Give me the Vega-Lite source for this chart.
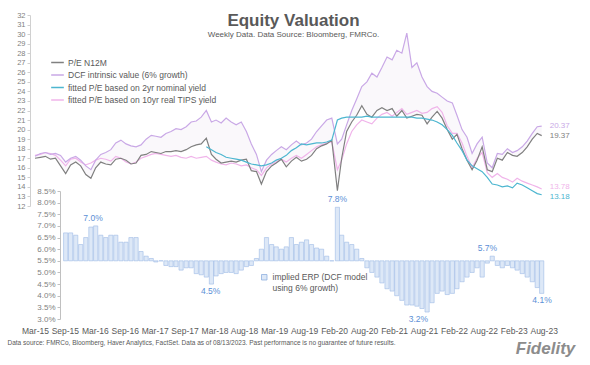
{
  "$schema": "https://vega.github.io/schema/vega-lite/v6.json",
  "width": 519,
  "height": 304,
  "autosize": {"type": "none"},
  "padding": {"left": 30, "top": 15, "right": 41, "bottom": 46},
  "background": "white",
  "config": {
    "view": {"stroke": null},
    "font": "Liberation Sans",
    "axis": {"grid": false, "labelOverlap": false, "labelSeparation": 0}
  },
  "title": {
    "text": "Equity Valuation",
    "subtitle": "Weekly Data. Data Source: Bloomberg, FMRCo.",
    "anchor": "middle", "frame": "group", "offset": -29, "dx": 4,
    "fontSize": 17, "fontWeight": "bold", "color": "#595959",
    "subtitleFontSize": 8, "subtitleColor": "#595959", "subtitlePadding": 1
  },
  "datasets": {
    "main": [
      {"date": "2015-03-13", "pe": 17.0, "dcf": 17.2, "tips": 17.3},
      {"date": "2015-04-15", "pe": 17.1, "dcf": 17.5, "tips": 17.4},
      {"date": "2015-05-15", "pe": 17.2, "dcf": 17.6, "tips": 17.6},
      {"date": "2015-06-15", "pe": 16.9, "dcf": 17.4, "tips": 17.5},
      {"date": "2015-07-15", "pe": 17.0, "dcf": 17.5, "tips": 17.3},
      {"date": "2015-08-15", "pe": 16.2, "dcf": 17.3, "tips": 16.8},
      {"date": "2015-09-15", "pe": 15.4, "dcf": 16.6, "tips": 16.2, "erp": 6.7},
      {"date": "2015-10-15", "pe": 16.3, "dcf": 17.0, "tips": 16.9, "erp": 6.7},
      {"date": "2015-11-15", "pe": 16.6, "dcf": 17.2, "tips": 17.0, "erp": 6.6},
      {"date": "2015-12-15", "pe": 16.2, "dcf": 16.8, "tips": 16.6, "erp": 6.2},
      {"date": "2016-01-15", "pe": 15.3, "dcf": 16.2, "tips": 16.3, "erp": 6.5},
      {"date": "2016-02-15", "pe": 14.9, "dcf": 15.8, "tips": 16.5, "erp": 6.95},
      {"date": "2016-03-15", "pe": 16.0, "dcf": 16.8, "tips": 16.8, "erp": 7.0},
      {"date": "2016-04-15", "pe": 16.6, "dcf": 17.4, "tips": 17.0, "erp": 6.6},
      {"date": "2016-05-15", "pe": 16.4, "dcf": 17.6, "tips": 16.9, "erp": 6.5},
      {"date": "2016-06-15", "pe": 16.3, "dcf": 17.9, "tips": 16.7, "erp": 6.6},
      {"date": "2016-07-15", "pe": 16.9, "dcf": 18.6, "tips": 17.2, "erp": 6.6},
      {"date": "2016-08-15", "pe": 17.0, "dcf": 18.9, "tips": 17.0, "erp": 6.3},
      {"date": "2016-09-15", "pe": 16.8, "dcf": 18.5, "tips": 16.6, "erp": 6.3},
      {"date": "2016-10-15", "pe": 16.4, "dcf": 18.3, "tips": 16.4, "erp": 6.5},
      {"date": "2016-11-15", "pe": 16.5, "dcf": 18.2, "tips": 16.6, "erp": 6.5},
      {"date": "2016-12-15", "pe": 17.3, "dcf": 18.4, "tips": 17.0, "erp": 5.9},
      {"date": "2017-01-15", "pe": 17.4, "dcf": 19.0, "tips": 17.2, "erp": 5.7},
      {"date": "2017-02-15", "pe": 17.7, "dcf": 19.4, "tips": 17.4, "erp": 5.6},
      {"date": "2017-03-15", "pe": 17.6, "dcf": 19.3, "tips": 17.5, "erp": 5.45},
      {"date": "2017-04-15", "pe": 17.5, "dcf": 19.2, "tips": 17.4, "erp": 5.5},
      {"date": "2017-05-15", "pe": 17.7, "dcf": 19.6, "tips": 17.3, "erp": 5.3},
      {"date": "2017-06-15", "pe": 17.7, "dcf": 19.8, "tips": 17.2, "erp": 5.25},
      {"date": "2017-07-15", "pe": 17.8, "dcf": 20.1, "tips": 17.3, "erp": 5.25},
      {"date": "2017-08-15", "pe": 17.7, "dcf": 20.0, "tips": 17.1, "erp": 5.1},
      {"date": "2017-09-15", "pe": 17.9, "dcf": 20.3, "tips": 17.0, "erp": 5.2},
      {"date": "2017-10-15", "pe": 18.2, "dcf": 20.8, "tips": 17.2, "erp": 5.2},
      {"date": "2017-11-15", "pe": 18.4, "dcf": 20.9, "tips": 17.0, "erp": 4.95},
      {"date": "2017-12-15", "pe": 18.5, "dcf": 21.3, "tips": 17.1, "erp": 4.9},
      {"date": "2018-01-15", "pe": 19.1, "dcf": 22.0, "tips": 17.2, "nom": 18.2, "erp": 4.8},
      {"date": "2018-02-15", "pe": 17.4, "dcf": 20.8, "tips": 16.8, "nom": 17.9, "erp": 4.5},
      {"date": "2018-03-15", "pe": 16.9, "dcf": 21.0, "tips": 16.6, "nom": 17.6, "erp": 4.85},
      {"date": "2018-04-15", "pe": 16.5, "dcf": 20.7, "tips": 16.4, "nom": 17.4, "erp": 4.95},
      {"date": "2018-05-15", "pe": 16.6, "dcf": 21.2, "tips": 16.3, "nom": 17.1, "erp": 5.0},
      {"date": "2018-06-15", "pe": 16.7, "dcf": 20.8, "tips": 16.5, "nom": 17.0, "erp": 5.0},
      {"date": "2018-07-15", "pe": 16.6, "dcf": 20.5, "tips": 16.4, "nom": 16.9, "erp": 4.95},
      {"date": "2018-08-15", "pe": 16.8, "dcf": 20.8, "tips": 16.2, "nom": 16.8, "erp": 5.1},
      {"date": "2018-09-15", "pe": 16.9, "dcf": 19.8, "tips": 16.3, "nom": 16.6, "erp": 5.25},
      {"date": "2018-10-15", "pe": 15.7, "dcf": 18.5, "tips": 16.0, "nom": 16.4, "erp": 5.3},
      {"date": "2018-11-15", "pe": 15.6, "dcf": 17.4, "tips": 15.8, "nom": 16.3, "erp": 5.6},
      {"date": "2018-12-15", "pe": 14.3, "dcf": 15.6, "tips": 15.2, "nom": 16.2, "erp": 6.0},
      {"date": "2019-01-15", "pe": 15.6, "dcf": 16.8, "tips": 16.0, "nom": 16.3, "erp": 6.5},
      {"date": "2019-02-15", "pe": 16.2, "dcf": 17.4, "tips": 16.4, "nom": 16.5, "erp": 6.2},
      {"date": "2019-03-15", "pe": 16.5, "dcf": 17.8, "tips": 16.6, "nom": 16.8, "erp": 6.1},
      {"date": "2019-04-15", "pe": 16.9, "dcf": 18.2, "tips": 16.9, "nom": 17.0, "erp": 6.0},
      {"date": "2019-05-15", "pe": 16.1, "dcf": 17.9, "tips": 16.6, "nom": 17.3, "erp": 6.1},
      {"date": "2019-06-15", "pe": 16.7, "dcf": 18.4, "tips": 17.0, "nom": 17.8, "erp": 6.5},
      {"date": "2019-07-15", "pe": 17.1, "dcf": 18.8, "tips": 17.3, "nom": 18.1, "erp": 6.2},
      {"date": "2019-08-15", "pe": 16.7, "dcf": 18.4, "tips": 17.0, "nom": 18.5, "erp": 6.3},
      {"date": "2019-09-15", "pe": 16.9, "dcf": 18.6, "tips": 17.4, "nom": 18.4, "erp": 6.4},
      {"date": "2019-10-15", "pe": 17.3, "dcf": 19.0, "tips": 17.8, "nom": 18.5, "erp": 6.2},
      {"date": "2019-11-15", "pe": 18.0, "dcf": 19.8, "tips": 18.2, "nom": 18.6, "erp": 6.05},
      {"date": "2019-12-15", "pe": 18.3, "dcf": 20.4, "tips": 18.4, "nom": 18.6, "erp": 6.0},
      {"date": "2020-01-15", "pe": 18.5, "dcf": 21.0, "tips": 18.6, "nom": 18.7, "erp": 5.7},
      {"date": "2020-02-15", "pe": 18.9, "dcf": 21.2, "tips": 18.7, "nom": 18.9, "erp": 5.5},
      {"date": "2020-03-20", "pe": 13.6, "dcf": 18.5, "tips": 15.8, "nom": 21.0, "erp": 7.8},
      {"date": "2020-04-15", "pe": 17.0, "dcf": 19.0, "tips": 16.8, "nom": 21.2, "erp": 6.6},
      {"date": "2020-05-15", "pe": 19.8, "dcf": 20.5, "tips": 18.5, "nom": 21.3, "erp": 6.3},
      {"date": "2020-06-15", "pe": 20.8, "dcf": 22.0, "tips": 19.8, "nom": 21.3, "erp": 6.2},
      {"date": "2020-07-15", "pe": 21.5, "dcf": 23.2, "tips": 20.5, "nom": 21.3, "erp": 6.0},
      {"date": "2020-08-15", "pe": 22.5, "dcf": 24.5, "tips": 21.0, "nom": 21.3, "erp": 5.6},
      {"date": "2020-09-15", "pe": 21.6, "dcf": 25.0, "tips": 20.8, "nom": 21.4, "erp": 5.2},
      {"date": "2020-10-15", "pe": 21.3, "dcf": 25.9, "tips": 20.6, "nom": 21.3, "erp": 5.0},
      {"date": "2020-11-15", "pe": 22.0, "dcf": 25.5, "tips": 21.2, "nom": 21.3, "erp": 4.8},
      {"date": "2020-12-15", "pe": 22.3, "dcf": 26.5, "tips": 21.6, "nom": 21.3, "erp": 4.55},
      {"date": "2021-01-15", "pe": 22.0, "dcf": 27.6, "tips": 21.8, "nom": 21.3, "erp": 4.3},
      {"date": "2021-02-15", "pe": 22.2, "dcf": 27.3, "tips": 21.4, "nom": 21.3, "erp": 4.2},
      {"date": "2021-03-15", "pe": 21.4, "dcf": 28.3, "tips": 21.8, "nom": 21.3, "erp": 4.0},
      {"date": "2021-04-15", "pe": 22.0, "dcf": 28.0, "tips": 22.2, "nom": 21.3, "erp": 3.8},
      {"date": "2021-05-15", "pe": 21.2, "dcf": 30.1, "tips": 21.6, "nom": 21.3, "erp": 3.6},
      {"date": "2021-06-15", "pe": 21.4, "dcf": 26.5, "tips": 21.8, "nom": 21.3, "erp": 3.6},
      {"date": "2021-07-15", "pe": 21.6, "dcf": 27.0, "tips": 22.0, "nom": 21.2, "erp": 3.55},
      {"date": "2021-08-15", "pe": 21.5, "dcf": 25.5, "tips": 21.7, "nom": 21.2, "erp": 3.45},
      {"date": "2021-09-15", "pe": 20.6, "dcf": 24.5, "tips": 21.8, "nom": 21.1, "erp": 3.3},
      {"date": "2021-10-15", "pe": 21.3, "dcf": 24.0, "tips": 22.2, "nom": 21.0, "erp": 3.7},
      {"date": "2021-11-15", "pe": 21.9, "dcf": 23.8, "tips": 22.4, "nom": 20.8, "erp": 4.1},
      {"date": "2021-12-15", "pe": 21.2, "dcf": 23.4, "tips": 21.8, "nom": 20.5, "erp": 4.2},
      {"date": "2022-01-15", "pe": 20.0, "dcf": 23.0, "tips": 20.4, "nom": 20.0, "erp": 4.05},
      {"date": "2022-02-15", "pe": 19.0, "dcf": 22.8, "tips": 19.6, "nom": 19.4, "erp": 4.1},
      {"date": "2022-03-15", "pe": 19.5, "dcf": 21.5, "tips": 19.6, "nom": 18.6, "erp": 4.3},
      {"date": "2022-04-15", "pe": 18.0, "dcf": 20.0, "tips": 18.6, "nom": 17.8, "erp": 4.6},
      {"date": "2022-05-15", "pe": 16.8, "dcf": 19.2, "tips": 17.2, "nom": 16.8, "erp": 4.8},
      {"date": "2022-06-15", "pe": 15.8, "dcf": 17.5, "tips": 16.0, "nom": 16.2, "erp": 5.0},
      {"date": "2022-07-15", "pe": 16.8, "dcf": 18.5, "tips": 17.0, "nom": 15.9, "erp": 5.2},
      {"date": "2022-08-15", "pe": 18.2, "dcf": 19.2, "tips": 17.6, "nom": 15.6, "erp": 4.8},
      {"date": "2022-09-15", "pe": 15.8, "dcf": 16.5, "tips": 15.5, "nom": 15.0, "erp": 5.4},
      {"date": "2022-10-15", "pe": 15.6, "dcf": 16.0, "tips": 15.0, "nom": 14.3, "erp": 5.7},
      {"date": "2022-11-15", "pe": 17.0, "dcf": 17.5, "tips": 15.4, "nom": 14.2, "erp": 5.3},
      {"date": "2022-12-15", "pe": 16.8, "dcf": 17.4, "tips": 15.0, "nom": 14.0, "erp": 5.2},
      {"date": "2023-01-15", "pe": 17.6, "dcf": 18.0, "tips": 14.8, "nom": 14.1, "erp": 5.3},
      {"date": "2023-02-15", "pe": 17.3, "dcf": 17.6, "tips": 14.5, "nom": 13.9, "erp": 5.2},
      {"date": "2023-03-15", "pe": 17.2, "dcf": 17.8, "tips": 14.9, "nom": 14.4, "erp": 5.1},
      {"date": "2023-04-15", "pe": 17.6, "dcf": 18.2, "tips": 14.6, "nom": 14.2, "erp": 4.95},
      {"date": "2023-05-15", "pe": 18.2, "dcf": 18.8, "tips": 14.4, "nom": 13.9, "erp": 4.8},
      {"date": "2023-06-15", "pe": 19.0, "dcf": 19.6, "tips": 14.2, "nom": 13.6, "erp": 4.6},
      {"date": "2023-07-15", "pe": 19.6, "dcf": 20.3, "tips": 14.0, "nom": 13.3, "erp": 4.35},
      {"date": "2023-08-11", "pe": 19.37, "dcf": 20.37, "tips": 13.78, "nom": 13.18, "erp": 4.1}
    ],
    "annUp": [
      {"date": "2016-02-28", "erp": 7.0, "label": "7.0%"},
      {"date": "2020-03-20", "erp": 7.8, "label": "7.8%"},
      {"date": "2022-09-16", "erp": 5.7, "label": "5.7%"}
    ],
    "annDown": [
      {"date": "2018-02-10", "erp": 4.5, "label": "4.5%"},
      {"date": "2021-07-24", "erp": 3.3, "label": "3.2%"},
      {"date": "2023-08-13", "erp": 4.1, "label": "4.1%"}
    ]
  },
  "data": {"name": "main"},
  "encoding": {
    "x": {
      "field": "date", "type": "temporal",
      "scale": {"domain": [{"year": 2015, "month": "mar", "date": 13}, {"year": 2023, "month": "aug", "date": 25}]},
      "axis": {
        "values": [
          {"year": 2015, "month": "mar", "date": 13}, {"year": 2015, "month": "sep", "date": 10},
          {"year": 2016, "month": "mar", "date": 10}, {"year": 2016, "month": "sep", "date": 7},
          {"year": 2017, "month": "mar", "date": 8}, {"year": 2017, "month": "sep", "date": 5},
          {"year": 2018, "month": "mar", "date": 6}, {"year": 2018, "month": "aug", "date": 31},
          {"year": 2019, "month": "mar", "date": 3}, {"year": 2019, "month": "aug", "date": 31},
          {"year": 2020, "month": "feb", "date": 29}, {"year": 2020, "month": "aug", "date": 29},
          {"year": 2021, "month": "feb", "date": 27}, {"year": 2021, "month": "aug", "date": 27},
          {"year": 2022, "month": "feb", "date": 25}, {"year": 2022, "month": "aug", "date": 25},
          {"year": 2023, "month": "feb", "date": 23}, {"year": 2023, "month": "aug", "date": 23}
        ],
        "format": "%b-%y", "domain": false, "ticks": false, "labelPadding": 7,
        "labelFontSize": 8.5, "labelColor": "#595959", "labelOverlap": false, "labelFlush": false,
        "title": "Data source: FMRCo, Bloomberg, Haver Analytics, FactSet. Data as of 08/13/2023. Past performance is no guarantee of future results.",
        "titleFontSize": 6.5, "titleFontWeight": "normal", "titleColor": "#595959",
        "titleAlign": "left", "titleX": -23, "titleY": 25, "titleBaseline": "alphabetic"
      }
    }
  },
  "layer": [
    {
      "layer": [
        {
          "data": {"values": [{}]},
          "mark": {"type": "rect", "fill": "transparent", "stroke": "#d9d9d9", "strokeWidth": 1},
          "encoding": {
            "x": {"datum": {"year": 2014, "month": "nov", "date": 8}, "type": "temporal"},
            "x2": {"datum": {"year": 2024, "month": "feb", "date": 26}},
            "y": {"datum": 33.05, "type": "quantitative", "scale": {"domain": [12, 32], "range": [191, 0], "nice": false, "zero": false}, "title": "Fidelity"},
            "y2": {"datum": -1.5}
          }
        },
        {
          "mark": {"type": "area", "fill": "#faf8fb", "fillOpacity": 1, "strokeWidth": 0},
          "encoding": {
            "y": {"field": "dcf", "type": "quantitative", "scale": {"domain": [12, 32], "range": [191, 0], "nice": false, "zero": false}, "title": "Fidelity"},
            "y2": {"field": "pe"}
          }
        },
        {
          "transform": [
            {"fold": ["tips", "dcf", "nom", "pe"], "as": ["key", "val"]},
            {"filter": "isValid(datum.val)"}
          ],
          "mark": {"type": "line", "strokeWidth": 1.2},
          "encoding": {
            "y": {
              "field": "val", "type": "quantitative",
              "scale": {"domain": [12, 32], "range": [191, 0], "nice": false, "zero": false},
              "title": "Fidelity",
              "axis": {
                "orient": "left", "values": [12,13,14,15,16,17,18,19,20,21,22,23,24,25,26,27,28,29,30,31,32],
                "tickCount": 21, "labelOverlap": false, "labelSeparation": 0, "labelBound": false,
                "domainColor": "#d0d0d0", "tickColor": "#d0d0d0", "tickSize": 3, "labelPadding": 2,
                "labelFontSize": 7.5, "labelColor": "#7f7f7f",
                "titleAngle": 0, "titleX": 515, "titleY": 338, "titleAlign": "center", "titleBaseline": "alphabetic",
                "titleFontSize": 17, "titleFontWeight": "bold", "titleFontStyle": "italic", "titleColor": "#8c8c8c"
              }
            },
            "color": {
              "field": "key", "type": "nominal",
              "scale": {"domain": ["pe", "dcf", "nom", "tips"], "range": ["#808080", "#c9a8e6", "#4db6d0", "#f0b4ea"]},
              "legend": {
                "orient": "none", "legendX": 20, "legendY": 42, "title": null,
                "symbolType": "stroke", "symbolSize": 160, "symbolStrokeWidth": 1.5,
                "labelFontSize": 8.5, "labelColor": "#595959", "rowPadding": 1.5, "clipHeight": 11, "labelOffset": 3,
                "labelExpr": "{'pe': 'P/E N12M', 'dcf': 'DCF intrinsic value (6% growth)', 'nom': 'fitted P/E based on 2yr nominal yield', 'tips': 'fitted P/E based on 10yr real TIPS yield'}[datum.label]"
              }
            }
          }
        },
        {
          "transform": [
            {"filter": "year(datum.date) == 2023 && month(datum.date) == 7"},
            {"fold": ["dcf", "pe"], "as": ["key", "val"]}
          ],
          "mark": {"type": "text", "align": "left", "baseline": "middle", "dx": 8, "fontSize": 8},
          "encoding": {
            "y": {"field": "val", "type": "quantitative", "scale": {"domain": [12, 32], "range": [191, 0], "nice": false, "zero": false}, "title": "Fidelity"},
            "text": {"field": "val", "type": "quantitative", "format": ".2f"},
            "color": {"field": "key", "type": "nominal", "legend": null}
          }
        },
        {
          "transform": [
            {"filter": "year(datum.date) == 2023 && month(datum.date) == 7"},
            {"fold": ["tips"], "as": ["key", "val"]}
          ],
          "mark": {"type": "text", "align": "left", "baseline": "middle", "dx": 8, "dy": -2, "fontSize": 8},
          "encoding": {
            "y": {"field": "val", "type": "quantitative", "scale": {"domain": [12, 32], "range": [191, 0], "nice": false, "zero": false}, "title": "Fidelity"},
            "text": {"field": "val", "type": "quantitative", "format": ".2f"},
            "color": {"field": "key", "type": "nominal", "legend": null}
          }
        },
        {
          "transform": [
            {"filter": "year(datum.date) == 2023 && month(datum.date) == 7"},
            {"fold": ["nom"], "as": ["key", "val"]}
          ],
          "mark": {"type": "text", "align": "left", "baseline": "middle", "dx": 8, "dy": 2, "fontSize": 8},
          "encoding": {
            "y": {"field": "val", "type": "quantitative", "scale": {"domain": [12, 32], "range": [191, 0], "nice": false, "zero": false}, "title": "Fidelity"},
            "text": {"field": "val", "type": "quantitative", "format": ".2f"},
            "color": {"field": "key", "type": "nominal", "legend": null}
          }
        },
        {
          "data": {"values": [{}]},
          "mark": {"type": "rule", "color": "#c09ae0", "strokeWidth": 1},
          "encoding": {
            "x": {"datum": {"year": 2021, "month": "dec", "date": 23}, "type": "temporal"},
            "y": {"datum": 29.1, "type": "quantitative", "scale": {"domain": [12, 32], "range": [191, 0], "nice": false, "zero": false}, "title": "Fidelity"},
            "x2": {"datum": {"year": 2021, "month": "may", "date": 20}},
            "y2": {"datum": 25.6}
          }
        },
        {
          "data": {"values": [{}]},
          "mark": {"type": "point", "shape": "triangle-up", "angle": 227, "size": 22, "filled": true, "color": "#c09ae0", "opacity": 1},
          "encoding": {
            "x": {"datum": {"year": 2021, "month": "may", "date": 20}, "type": "temporal"},
            "y": {"datum": 25.6, "type": "quantitative", "scale": {"domain": [12, 32], "range": [191, 0], "nice": false, "zero": false}, "title": "Fidelity"}
          }
        },
        {
          "data": {"values": [{}]},
          "mark": {"type": "text", "text": "bond/Fed bubble", "color": "#c59ee6", "fontSize": 9, "align": "center", "baseline": "middle"},
          "encoding": {
            "x": {"datum": {"year": 2022, "month": "feb", "date": 14}, "type": "temporal"},
            "y": {"datum": 29.9, "type": "quantitative", "scale": {"domain": [12, 32], "range": [191, 0], "nice": false, "zero": false}, "title": "Fidelity"}
          }
        }
      ]
    },
    {
      "layer": [
        {
          "transform": [{"filter": "isValid(datum.erp)"}],
          "mark": {"type": "bar", "size": 4.2, "stroke": "#9dbbe6", "strokeWidth": 0.6},
          "encoding": {
            "y": {
              "field": "erp", "type": "quantitative",
              "scale": {"domain": [3, 8.5], "range": [304, 176], "nice": false, "zero": false},
              "title": null,
              "axis": {
                "orient": "left", "offset": -30, "values": [3, 3.5, 4, 4.5, 5, 5.5, 6, 6.5, 7, 7.5, 8, 8.5],
                "tickCount": 12,
                "labelExpr": "format(datum.value, '.1f') + '%'", "labelOverlap": false, "labelSeparation": 0, "labelBound": false,
                "domainColor": "#c0c0c0", "tickColor": "#c0c0c0", "tickSize": 3, "labelPadding": 2,
                "labelFontSize": 8, "labelColor": "#7f7f7f", "title": null
              }
            },
            "y2": {"datum": 5.5},
            "fill": {
              "datum": "ERP", "type": "nominal",
              "scale": {"range": ["#dde8f7"]},
              "legend": {
                "orient": "none", "legendX": 230, "legendY": 258, "title": null,
                "symbolType": "square", "symbolSize": 30, "symbolStrokeColor": "#8fb0e0", "symbolStrokeWidth": 0.8,
                "labelFontSize": 8.5, "labelColor": "#595959", "labelLimit": 300,
                "labelExpr": "['implied ERP (DCF model', 'using 6% growth)']"
              }
            }
          }
        },
        {
          "data": {"values": [{}]},
          "mark": {"type": "rule", "color": "#bdbdbd", "strokeDash": [2, 2], "strokeWidth": 0.8},
          "encoding": {
            "x": {"datum": {"year": 2015, "month": "aug", "date": 20}, "type": "temporal"},
            "x2": {"datum": {"year": 2023, "month": "aug", "date": 25}},
            "y": {"datum": 5.5, "type": "quantitative", "scale": {"domain": [3, 8.5], "range": [304, 176], "nice": false, "zero": false}, "title": null}
          }
        },
        {
          "data": {"name": "annUp"},
          "mark": {"type": "text", "color": "#5b8fd6", "fontSize": 8.5, "dy": -8, "baseline": "middle"},
          "encoding": {
            "y": {"field": "erp", "type": "quantitative", "scale": {"domain": [3, 8.5], "range": [304, 176], "nice": false, "zero": false}, "title": null},
            "text": {"field": "label"}
          }
        },
        {
          "data": {"name": "annDown"},
          "mark": {"type": "text", "color": "#5b8fd6", "fontSize": 8.5, "dy": 7, "baseline": "middle"},
          "encoding": {
            "y": {"field": "erp", "type": "quantitative", "scale": {"domain": [3, 8.5], "range": [304, 176], "nice": false, "zero": false}, "title": null},
            "text": {"field": "label"}
          }
        },
        {
          "data": {"values": [{}]},
          "mark": {"type": "text", "text": ["ERP is based on 6% EPS growth.", "average since 2000: 5.5%"], "color": "#6f6f6f", "fontSize": 8.5, "align": "left", "baseline": "top", "lineHeight": 11},
          "encoding": {
            "x": {"datum": {"year": 2021, "month": "aug", "date": 11}, "type": "temporal"},
            "y": {"datum": 7.26, "type": "quantitative", "scale": {"domain": [3, 8.5], "range": [304, 176], "nice": false, "zero": false}, "title": null}
          }
        }
      ]
    }
  ],
  "resolve": {"scale": {"y": "independent"}}
}
